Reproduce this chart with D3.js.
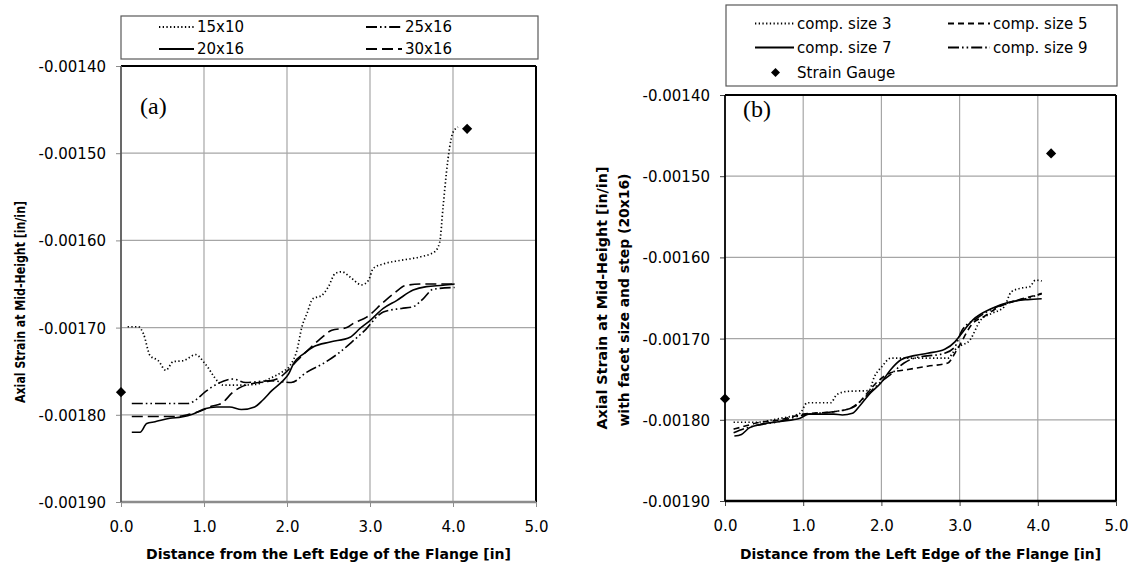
<!DOCTYPE html>
<html lang="en">
<head>
<meta charset="UTF-8">
<title>Axial strain at mid-height</title>
<script src="https://d3js.org/d3.v7.min.js"></script>
<style>
    body { margin: 0; background: #fff; }
    text { font-family: "DejaVu Sans", sans-serif; fill: #000; }
</style>
</head>
<body>
<svg id="main" width="1133" height="567"></svg>
<script>
    // axis ticks (same for both panels)
    const xTicks = [0, 1, 2, 3, 4, 5];
    const yTicks = [-0.0014, -0.0015, -0.0016, -0.0017, -0.0018, -0.0019];

    // strain gauge readings [x in, strain]
    const gauge = [[0, -0.001774], [4.17, -0.001472]];

    // panel (a): facet sizes
    const meshLabels = ["15x10", "25x16", "20x16", "30x16"];
    const mesh15x10 = [[0.08,-0.001699],[0.21,-0.001699],[0.27,-0.001707],[0.35,-0.001732],[0.45,-0.001738],[0.54,-0.001749],[0.63,-0.001739],[0.75,-0.001738],[0.90,-0.001731],[1.01,-0.001741],[1.17,-0.001762],[1.23,-0.001766],[1.45,-0.001766],[1.63,-0.001765],[1.80,-0.001758],[1.94,-0.001751],[2.04,-0.001743],[2.12,-0.001726],[2.18,-0.001699],[2.24,-0.001684],[2.31,-0.001667],[2.42,-0.001663],[2.50,-0.001653],[2.58,-0.001638],[2.66,-0.001636],[2.76,-0.001642],[2.90,-0.001651],[2.98,-0.001646],[3.04,-0.001632],[3.16,-0.001627],[3.36,-0.001623],[3.60,-0.001619],[3.78,-0.001613],[3.84,-0.001602],[3.88,-0.001562],[3.92,-0.001523],[3.96,-0.001493],[4.00,-0.001476],[4.06,-0.001470]];
    const mesh25x16 = [[0.13,-0.001787],[0.81,-0.001787],[0.90,-0.001783],[1.01,-0.001774],[1.17,-0.001764],[1.35,-0.001759],[1.50,-0.001763],[1.80,-0.001761],[2.05,-0.001763],[2.24,-0.001751],[2.44,-0.001741],[2.64,-0.001728],[2.80,-0.001715],[2.95,-0.001702],[3.10,-0.001686],[3.16,-0.001682],[3.38,-0.001678],[3.52,-0.001676],[3.64,-0.001667],[3.76,-0.001656],[4.02,-0.001654]];
    const mesh20x16 = [[0.13,-0.001820],[0.23,-0.001820],[0.31,-0.001810],[0.41,-0.001808],[0.59,-0.001804],[0.73,-0.0018025],[0.87,-0.001799],[1.01,-0.001793],[1.15,-0.001791],[1.31,-0.001791],[1.45,-0.001794],[1.61,-0.001791],[1.71,-0.001783],[1.82,-0.001772],[1.94,-0.001762],[2.02,-0.001753],[2.08,-0.001741],[2.20,-0.001730],[2.32,-0.001722],[2.52,-0.0017165],[2.76,-0.001711],[2.88,-0.001701],[3.00,-0.001692],[3.16,-0.001678],[3.32,-0.001669],[3.52,-0.001657],[3.68,-0.001653],[3.88,-0.0016515],[4.02,-0.001650]];
    const mesh30x16 = [[0.13,-0.001802],[0.65,-0.001802],[0.80,-0.001800],[0.95,-0.001796],[1.10,-0.001790],[1.21,-0.001787],[1.35,-0.001774],[1.45,-0.001768],[1.59,-0.001764],[1.75,-0.001762],[1.90,-0.001758],[2.00,-0.001750],[2.12,-0.001738],[2.25,-0.001726],[2.40,-0.001713],[2.54,-0.001703],[2.72,-0.001700],[2.80,-0.001695],[2.96,-0.001688],[3.16,-0.001671],[3.30,-0.001660],[3.42,-0.001652],[3.60,-0.001650],[4.02,-0.001650]];

    // panel (b): computation sizes
    const compLabels = ["comp. size 3", "comp. size 5", "comp. size 7", "comp. size 9"];
    const comp3 = [[0.11,-0.001803],[0.40,-0.001803],[0.66,-0.001799],[0.96,-0.001792],[1.05,-0.001779],[1.35,-0.001779],[1.43,-0.001769],[1.56,-0.001765],[1.84,-0.001764],[1.91,-0.001747],[2.01,-0.001734],[2.12,-0.001724],[2.85,-0.001724],[2.94,-0.001714],[2.99,-0.001710],[3.13,-0.001702],[3.27,-0.001677],[3.41,-0.001669],[3.57,-0.001661],[3.66,-0.0016425],[3.78,-0.001638],[3.90,-0.001636],[3.97,-0.001628],[4.05,-0.001629]];
    const comp5 = [[0.11,-0.0018115],[0.21,-0.001809],[0.40,-0.001804],[0.70,-0.001800],[1.00,-0.001793],[1.39,-0.001790],[1.65,-0.001784],[1.82,-0.001767],[1.95,-0.001753],[2.12,-0.001742],[2.34,-0.001738],[2.59,-0.001734],[2.85,-0.001730],[2.94,-0.001718],[2.99,-0.001710],[3.17,-0.001681],[3.31,-0.001673],[3.50,-0.001661],[3.73,-0.001653],[4.05,-0.001645]];
    const comp7 = [[0.12,-0.001820],[0.21,-0.001818],[0.31,-0.001810],[0.44,-0.001806],[0.70,-0.001802],[0.96,-0.001798],[1.07,-0.001793],[1.39,-0.001793],[1.50,-0.001794],[1.63,-0.001792],[1.73,-0.001782],[1.86,-0.001767],[1.99,-0.001755],[2.12,-0.001738],[2.25,-0.001726],[2.42,-0.001721],[2.59,-0.001718],[2.81,-0.001713],[2.94,-0.001704],[2.99,-0.001698],[3.17,-0.001677],[3.41,-0.001663],[3.64,-0.001655],[3.87,-0.001652],[4.05,-0.001651]];
    const comp9 = [[0.11,-0.001816],[0.31,-0.001809],[0.70,-0.001802],[1.00,-0.001794],[1.39,-0.001790],[1.60,-0.001786],[1.78,-0.001773],[1.95,-0.001757],[2.12,-0.001744],[2.29,-0.001730],[2.42,-0.001724],[2.81,-0.001718],[2.94,-0.001710],[3.03,-0.001690],[3.22,-0.001675],[3.45,-0.001662],[3.69,-0.001654],[3.92,-0.001649],[4.05,-0.001644]];

    // line styles
    const dotted = "1.3 2.4", dashDotDot = "11 3 1.6 3 1.6 3", longDash = "11 5", shortDash = "6 4", solid = null;

    const svg = d3.select('svg#main');

    function drawPanel(p) {
        const x = d3.scaleLinear().domain([0, 5]).range([p.left, p.right]);
        const y = d3.scaleLinear().domain([-0.0014, -0.0019]).range([p.top, p.bottom]);
        const g = svg.append('g');

        // grid
        g.selectAll('line.vgrid').data(xTicks.slice(1, -1)).enter().append('line')
            .attr('x1', d => x(d)).attr('x2', d => x(d))
            .attr('y1', p.top).attr('y2', p.bottom)
            .attr('stroke', '#a6a6a6').attr('stroke-width', 1.2);
        g.selectAll('line.hgrid').data(yTicks.slice(1, -1)).enter().append('line')
            .attr('x1', p.left).attr('x2', p.right)
            .attr('y1', d => y(d)).attr('y2', d => y(d))
            .attr('stroke', '#a6a6a6').attr('stroke-width', 1.2);

        // axes (ticks + labels), plain hyphen for negatives like the original
        const xAxis = g.append('g').attr('transform', `translate(0,${p.bottom})`)
            .call(d3.axisBottom(x).tickValues(xTicks).tickFormat(d => d.toFixed(1)).tickSize(5).tickSizeOuter(0).tickPadding(14));
        const yAxis = g.append('g').attr('transform', `translate(${p.left},0)`)
            .call(d3.axisLeft(y).tickValues(yTicks).tickFormat(d => d.toFixed(5)).tickSize(5).tickSizeOuter(0).tickPadding(10));
        [xAxis, yAxis].forEach(a => {
            a.select('.domain').remove();
            a.selectAll('line').attr('stroke', p.tickColor);
            a.selectAll('text').style('font-size', '15px').attr('fill', '#000');
        });
        yAxis.selectAll('text').attr('dy', '0.36em');

        // frame
        g.append('line').attr('x1', p.left).attr('x2', p.right).attr('y1', p.top).attr('y2', p.top)
            .attr('stroke', '#000').attr('stroke-width', 2);
        g.append('line').attr('x1', p.right).attr('x2', p.right).attr('y1', p.top).attr('y2', p.bottom)
            .attr('stroke', '#000').attr('stroke-width', 2);
        g.append('line').attr('x1', p.left).attr('x2', p.right).attr('y1', p.bottom).attr('y2', p.bottom)
            .attr('stroke', p.bottomColor).attr('stroke-width', 2.4);
        g.append('line').attr('x1', p.left).attr('x2', p.left).attr('y1', p.top).attr('y2', p.bottom)
            .attr('stroke', p.leftColor).attr('stroke-width', 1.8);

        // series
        const line = d3.line().x(d => x(d[0])).y(d => y(d[1])).curve(d3.curveMonotoneX);
        g.selectAll('path.series').data(p.series).enter().append('path')
            .attr('d', d => line(d.values))
            .attr('fill', 'none').attr('stroke', '#000')
            .attr('stroke-width', d => d.dash === dotted ? 1.7 : 1.6)
            .attr('stroke-dasharray', d => d.dash);

        // strain gauge diamonds
        g.selectAll('path.gauge').data(gauge).enter().append('path')
            .attr('d', d3.symbol(d3.symbolSquare, 52))
            .attr('transform', d => `translate(${x(d[0])},${y(d[1])}) rotate(45)`)
            .attr('fill', '#000');

        // panel tag
        g.append('text').attr('x', p.tag[1]).attr('y', p.tag[2]).text(p.tag[0])
            .style('font-family', '"Liberation Serif", serif').style('font-size', '24px');

        // legend
        const lg = p.legend;
        g.append('rect').attr('x', lg.x).attr('y', lg.y).attr('width', lg.w).attr('height', lg.h)
            .attr('fill', '#fff').attr('stroke', '#595959').attr('stroke-width', 1.2);
        lg.items.forEach(it => {
            if (it.marker) {
                g.append('path').attr('d', d3.symbol(d3.symbolSquare, 40))
                    .attr('transform', `translate(${(it.x0 + it.x1) / 2},${it.y}) rotate(45)`).attr('fill', '#000');
            } else {
                g.append('line').attr('x1', it.x0).attr('x2', it.x1).attr('y1', it.y).attr('y2', it.y)
                    .attr('stroke', '#000').attr('stroke-width', 1.8).attr('stroke-dasharray', it.dash);
            }
            g.append('text').attr('x', it.x1 + 3).attr('y', it.y).attr('dy', '0.36em')
                .style('font-size', '15px').text(it.label);
        });

        // axis titles
        g.append('text').attr('x', (p.left + p.right) / 2).attr('y', 559)
            .attr('text-anchor', 'middle').style('font-weight', 'bold').style('font-size', '14px')
            .attr('textLength', p.xTitleLen).attr('lengthAdjust', 'spacingAndGlyphs')
            .text('Distance from the Left Edge of the Flange [in]');
        p.yTitle.forEach(t => {
            g.append('text').attr('transform', `translate(${t.x},${t.cy}) rotate(-90)`)
                .attr('text-anchor', 'middle').style('font-weight', 'bold').style('font-size', '14px')
                .attr('textLength', t.len).attr('lengthAdjust', 'spacingAndGlyphs')
                .text(t.text);
        });
    }

    drawPanel({
        left: 121, right: 536, top: 66, bottom: 502,
        tickColor: '#8c8c8c', leftColor: '#595959', bottomColor: '#8c8c8c',
        series: [
            {values: mesh15x10, dash: dotted},
            {values: mesh25x16, dash: dashDotDot},
            {values: mesh20x16, dash: solid},
            {values: mesh30x16, dash: longDash}
        ],
        tag: ['(a)', 140, 114],
        legend: {x: 121, y: 16, w: 417, h: 43, items: [
            {x0: 159, x1: 194, y: 27, dash: dotted, label: meshLabels[0]},
            {x0: 366, x1: 402, y: 27, dash: dashDotDot, label: meshLabels[1]},
            {x0: 159, x1: 194, y: 49, dash: solid, label: meshLabels[2]},
            {x0: 366, x1: 402, y: 49, dash: longDash, label: meshLabels[3]}
        ]},
        xTitleLen: 365,
        yTitle: [{x: 25, cy: 302, len: 202, text: 'Axial Strain at Mid-Height [in/in]'}]
    });

    drawPanel({
        left: 725, right: 1116, top: 95, bottom: 501,
        tickColor: '#404040', leftColor: '#000', bottomColor: '#000',
        series: [
            {values: comp3, dash: dotted},
            {values: comp5, dash: shortDash},
            {values: comp7, dash: solid},
            {values: comp9, dash: dashDotDot}
        ],
        tag: ['(b)', 743, 117],
        legend: {x: 726, y: 5, w: 391, h: 81, items: [
            {x0: 755, x1: 794, y: 23.5, dash: dotted, label: compLabels[0]},
            {x0: 948, x1: 990, y: 23.5, dash: shortDash, label: compLabels[1]},
            {x0: 755, x1: 794, y: 47.5, dash: solid, label: compLabels[2]},
            {x0: 948, x1: 990, y: 47.5, dash: dashDotDot, label: compLabels[3]},
            {x0: 757, x1: 794, y: 72.5, marker: true, label: 'Strain Gauge'}
        ]},
        xTitleLen: 361,
        yTitle: [
            {x: 607, cy: 298, len: 263, text: 'Axial Strain at Mid-Height [in/in]'},
            {x: 629, cy: 300, len: 253, text: 'with facet size and step (20x16)'}
        ]
    });
</script>
</body>
</html>
